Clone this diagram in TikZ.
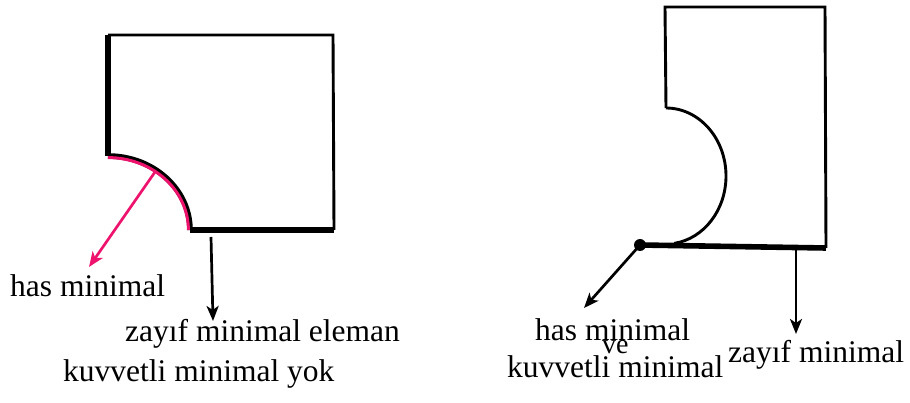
\documentclass[tikz,border=0pt]{standalone}
\usepackage{fontspec}
\setmainfont{Liberation Serif}
\usetikzlibrary{arrows.meta,calc}
\definecolor{pinkline}{RGB}{238,20,110}
\tikzset{
  thinedge/.style={line width=2.9pt, line join=miter},
  thickedge/.style={line width=5.6pt},
  ptr/.style={line width=2.7pt, -{Stealth[length=15pt,width=12pt,inset=4pt]}},
  lbl/.style={font=\fontsize{31.5}{34}\selectfont, inner sep=0pt, anchor=base west},
  smalllbl/.style={font=\fontsize{28}{30}\selectfont, inner sep=0pt, anchor=base west}
}
\begin{document}
\begin{tikzpicture}[x=1pt,y=-1pt]
\useasboundingbox (0,0) rectangle (910,403);
% ---- left figure ----
\coordinate (LTL) at (108,35);
\coordinate (LTR) at (333,35);
\coordinate (LBR) at (334,230);
\coordinate (LBL) at (190,230);
\coordinate (LAS) at (108,156);
\draw[thinedge] (LTL) -- (LTR) -- (LBR);
\draw[thickedge] (LBR) -- (LBL);
\draw[thickedge] (LTL) -- (LAS);
\draw[thickedge] (LAS) arc[start angle=-90, end angle=0, x radius=82, y radius=74];
\draw[line width=3pt, pinkline] ($(LAS)+(0,1.6)$) arc[start angle=-90, end angle=0, x radius=80.4, y radius=72.4];
\coordinate (LArc) at (155,172);
\coordinate (LPinkEnd) at (89,267);
\coordinate (LBotMid) at (211,237);
\coordinate (LDownEnd) at (213,321);
\draw[ptr, pinkline] (LArc) -- (LPinkEnd);
\draw[ptr] (LBotMid) -- (LDownEnd);
\node[lbl] (has1) at (10,296.5) {has minimal};
\node[lbl] (zay1) at (125,341.5) {zayıf minimal eleman};
\node[lbl] (kuv1) at (63,381.5) {kuvvetli minimal yok};
% ---- right figure ----
\coordinate (RTL) at (665,7);
\coordinate (RTR) at (825,7);
\coordinate (RBR) at (826,248);
\coordinate (RAS) at (666,108);
\coordinate (RDot) at (640,245);
\draw[thinedge] (RAS) -- (RTL) -- (RTR) -- (RBR);
\draw[thinedge] (RAS) arc[start angle=-90, end angle=82, x radius=60, y radius=68];
\draw[thickedge] (RDot) -- (RBR);
\fill (RDot) circle[radius=6];
\coordinate (RDiagEnd) at (584,308);
\coordinate (RBotMid) at (796,249);
\coordinate (RDownEnd) at (796,334);
\draw[ptr] (RDot) -- (RDiagEnd);
\draw[ptr] (RBotMid) -- (RDownEnd);
\node[lbl] (has2) at (535,340) {has minimal};
\node[smalllbl] (ve2) at (602,353) {ve};
\node[lbl] (kuv2) at (507,377) {kuvvetli minimal};
\node[lbl] (zay2) at (728,362) {zayıf minimal};
\end{tikzpicture}
\end{document}
